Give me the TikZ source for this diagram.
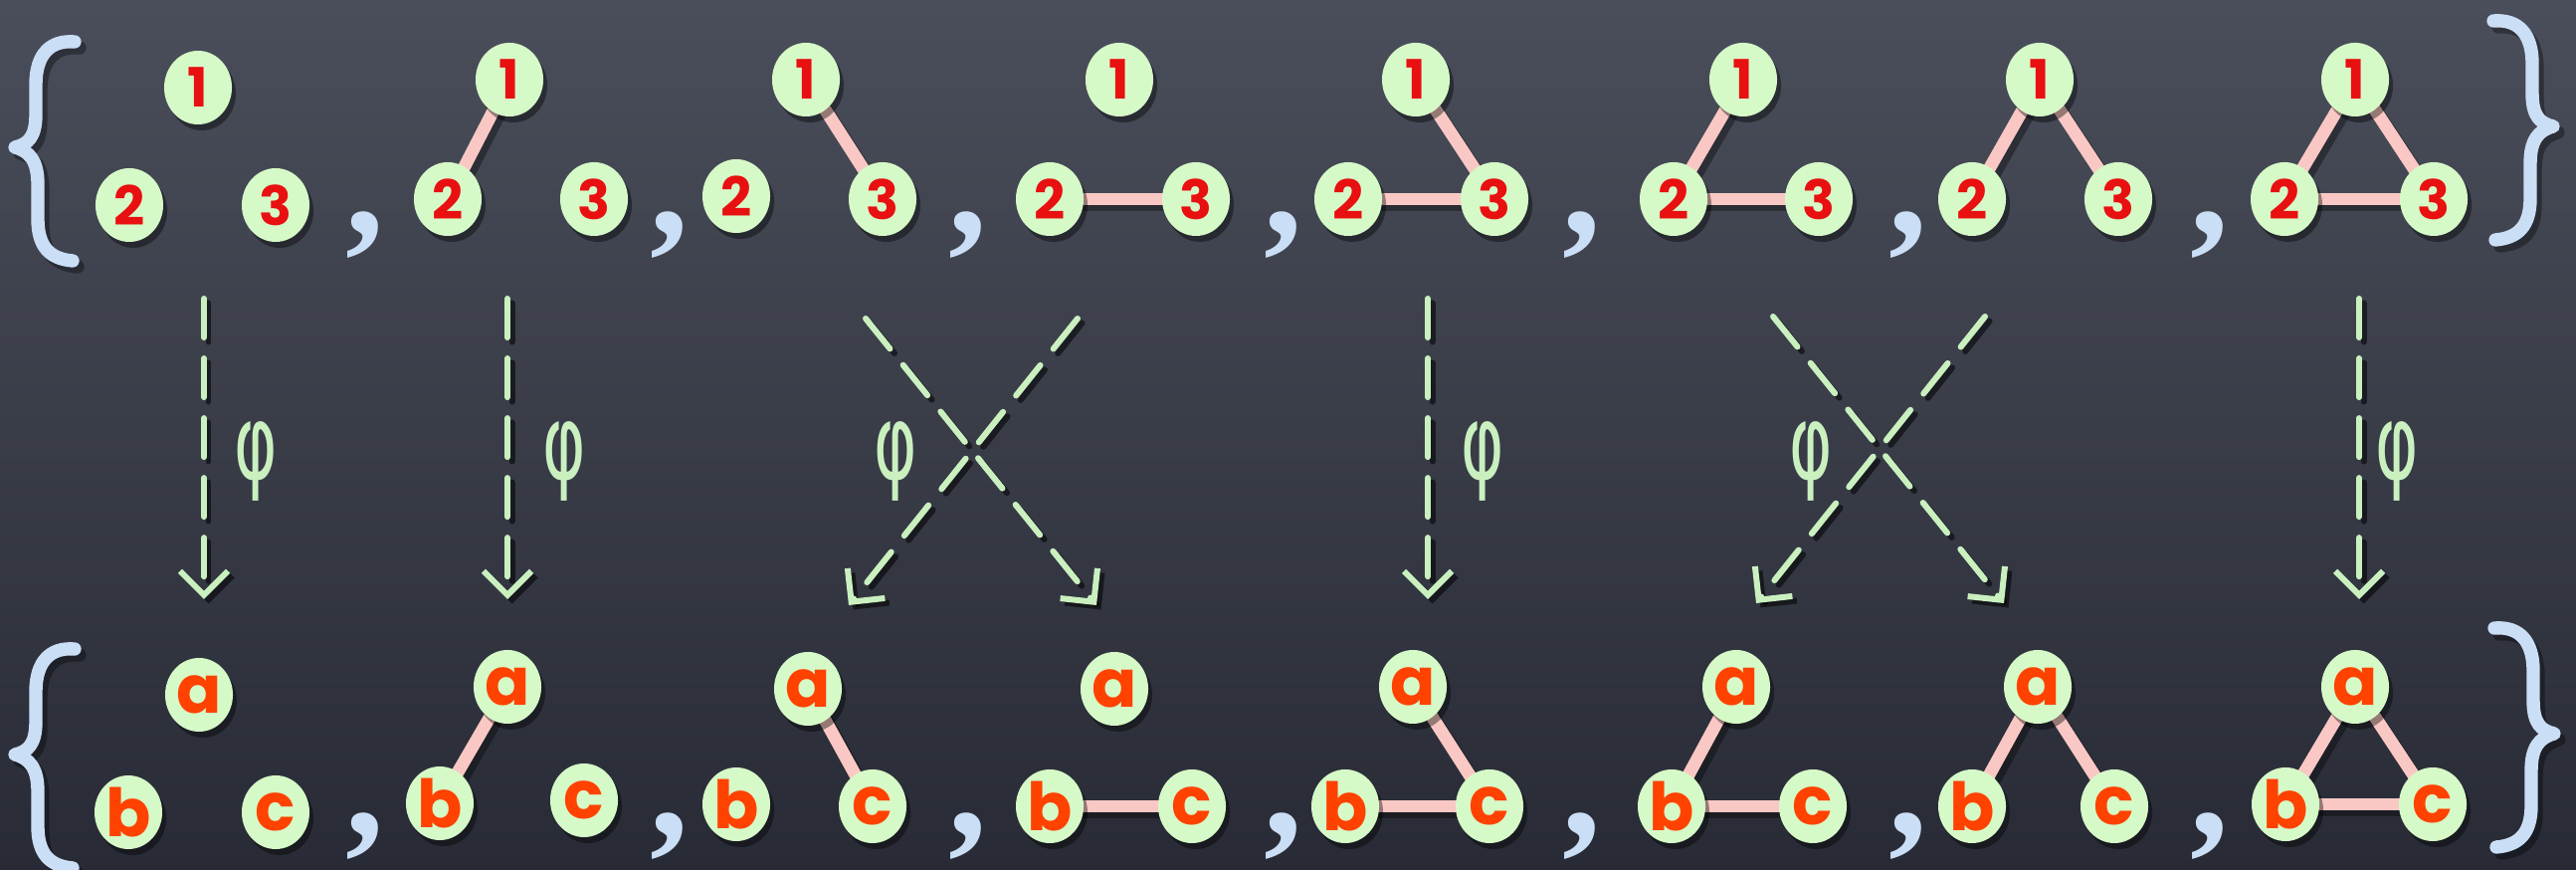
\documentclass[tikz,border=0pt]{standalone}
\usepackage{fontspec}
\setmainfont{Poppins}
\newfontfamily\phiface{DejaVu Sans}
\newfontfamily\commafamily{Liberation Serif}
\usetikzlibrary{arrows.meta,shapes.geometric,shadows}

\definecolor{boardtop}{RGB}{74,78,90}
\definecolor{boardmid}{RGB}{64,68,80}
\definecolor{boardbot}{RGB}{40,43,53}
\definecolor{vertfill}{RGB}{214,249,200}
\definecolor{numred}{RGB}{232,16,16}
\definecolor{letred}{RGB}{255,66,0}
\definecolor{edgepink}{RGB}{250,200,196}
\definecolor{chalk}{RGB}{202,240,192}
\definecolor{braceblue}{RGB}{202,222,246}

\newcommand\vtxdigits{\bfseries\fontsize{15.5}{18}\selectfont}
\newcommand\vtxletters{\bfseries\fontsize{19}{22}\selectfont}
\newcommand\commaface{\commafamily\bfseries\fontsize{44}{48}\selectfont}

\pgfdeclarelayer{board}
\pgfdeclarelayer{under}
\pgfsetlayers{board,under,main}

\tikzset{
  vert/.style={ellipse, fill=vertfill, minimum width=0.68cm, minimum height=0.74cm,
    inner sep=0pt, text=numred, font=\vtxdigits,
    drop shadow={shadow xshift=0.4mm, shadow yshift=-0.6mm, opacity=0.4, fill=black}},
  letter/.style={vert, text=letred, font=\vtxletters},
  gedge/.style={draw=edgepink, line width=3.6pt},
  gshadow/.style={draw=black, opacity=0.35, line width=3.6pt,
    transform canvas={xshift=0.5mm,yshift=-0.6mm}},
  maparrow/.style={draw=chalk, line width=1.7pt, line cap=round,
    dash pattern=on 3.9mm off 2.1mm,
    -{Straight Barb[length=2.4mm,width=4.8mm]}},
  arrowshadow/.style={maparrow, draw=black, opacity=0.55,
    transform canvas={xshift=0.45mm,yshift=-0.45mm}},
  brace/.style={draw=braceblue, line width=3.8pt, line cap=round, line join=round},
  braceshadow/.style={brace, draw=black, opacity=0.35,
    transform canvas={xshift=0.5mm,yshift=-0.6mm}},
  comma/.style={text=braceblue, font=\commaface, inner sep=0pt},
  philabel/.style={text=chalk, font=\phiface\fontsize{26}{30}\selectfont, inner sep=0pt},
  % curly brace, drawn relative to its tip
  setbrace/.pic={
    \path[braceshadow] (60,-106) .. controls (35,-108) and (21,-93) .. (21,-63)
      -- (21,-33) .. controls (21,-10) and (13,-3) .. (0,0)
      .. controls (15,4) and (23,14) .. (23,37) -- (23,72)
      .. controls (23,100) and (35,112) .. (58,114);
    \path[brace] (60,-106) .. controls (35,-108) and (21,-93) .. (21,-63)
      -- (21,-33) .. controls (21,-10) and (13,-3) .. (0,0)
      .. controls (15,4) and (23,14) .. (23,37) -- (23,72)
      .. controls (23,100) and (35,112) .. (58,114);
  },
}

\begin{document}
\begin{tikzpicture}[x=0.01cm,y=-0.01cm]
\begin{pgfonlayer}{board}
  \shade[top color=boardtop, middle color=boardmid, bottom color=boardbot]
    (0,0) rectangle (2589,874);
\end{pgfonlayer}
\useasboundingbox (0,0) rectangle (2589,874);

% braces of the two sets
\path (15,148) pic {setbrace};
\path (2566,127) pic[xscale=-1] {setbrace};
\path (15,758) pic {setbrace};
\path (2567,737) pic[xscale=-1] {setbrace};

% graphs on vertices 1,2,3
\foreach \g/\ax/\ay/\bx/\by/\cx/\cy in {
  1/199/88/130/206/277/206,
  2/512/80/450/200/597/200,
  3/810/80/740/197/887/200,
  4/1125/80/1055/200/1202/200,
  5/1423/80/1355/200/1502/200,
  6/1752/80/1682/200/1828/200,
  7/2050/80/1982/200/2129/200,
  8/2367/80/2296/200/2446/200} {
  \node[vert] (t\g-1) at (\ax,\ay) {1};
  \node[vert] (t\g-2) at (\bx,\by) {2};
  \node[vert] (t\g-3) at (\cx,\cy) {3};
}

% graphs on vertices a,b,c
\foreach \g/\ax/\ay/\bx/\by/\cx/\cy in {
  1/200/698/129/816/277/816,
  2/510/690/442/807/587/804,
  3/812/692/740/808/877/810,
  4/1120/692/1055/810/1198/810,
  5/1420/690/1352/810/1497/810,
  6/1745/690/1680/810/1822/810,
  7/2048/690/1982/810/2125/810,
  8/2367/690/2297/808/2445/808} {
  \node[letter] (b\g-1) at (\ax,\ay) {a};
  \node[letter] (b\g-2) at (\bx,\by) {b};
  \node[letter] (b\g-3) at (\cx,\cy) {c};
}

% edges
\begin{pgfonlayer}{under}
  \foreach \g/\p/\q in {2/1/2, 3/1/3, 4/2/3, 5/1/3, 5/2/3, 6/1/2, 6/2/3,
                         7/1/2, 7/1/3, 8/1/2, 8/1/3, 8/2/3} {
    \draw[gshadow] (t\g-\p.center) -- (t\g-\q.center);
    \draw[gshadow] (b\g-\p.center) -- (b\g-\q.center);
  }
  \foreach \g/\p/\q in {2/1/2, 3/1/3, 4/2/3, 5/1/3, 5/2/3, 6/1/2, 6/2/3,
                         7/1/2, 7/1/3, 8/1/2, 8/1/3, 8/2/3} {
    \draw[gedge] (t\g-\p.center) -- (t\g-\q.center);
    \draw[gedge] (b\g-\p.center) -- (b\g-\q.center);
  }
\end{pgfonlayer}

% commas between the elements
\foreach \i/\x in {1/367, 2/673, 3/973, 4/1290, 5/1590, 6/1918, 7/2221} {
  \node[comma] (tc\i) at (\x,236) {,};
  \node[comma] (bc\i) at (\x,840) {,};
}

% the map phi
\coordinate (v1s) at (205,300);  \coordinate (v1e) at (205,602);
\coordinate (v2s) at (510,300);  \coordinate (v2e) at (510,602);
\coordinate (v4s) at (1435,300); \coordinate (v4e) at (1435,602);
\coordinate (v8s) at (2371,300); \coordinate (v8e) at (2371,602);
\coordinate (x1as) at (870,320);  \coordinate (x1ae) at (1102,608);
\coordinate (x1bs) at (1083,320); \coordinate (x1be) at (853,608);
\coordinate (x2as) at (1782,318); \coordinate (x2ae) at (2014,606);
\coordinate (x2bs) at (1995,318); \coordinate (x2be) at (1765,606);

\foreach \s/\e in {v1s/v1e, v2s/v2e, v4s/v4e, v8s/v8e,
                   x1as/x1ae, x1bs/x1be, x2as/x2ae, x2bs/x2be} {
  \draw[arrowshadow] (\s) -- (\e);
  \draw[maparrow] (\s) -- (\e);
}

\node[philabel] (p1) at (257,463) {\scalebox{0.72}[1.15]{φ}};
\node[philabel] (p2) at (567,463) {\scalebox{0.72}[1.15]{φ}};
\node[philabel] (p3) at (900,463) {\scalebox{0.72}[1.15]{φ}};
\node[philabel] (p4) at (1490,463) {\scalebox{0.72}[1.15]{φ}};
\node[philabel] (p5) at (1820,463) {\scalebox{0.72}[1.15]{φ}};
\node[philabel] (p8) at (2409,463) {\scalebox{0.72}[1.15]{φ}};
\end{tikzpicture}
\end{document}
